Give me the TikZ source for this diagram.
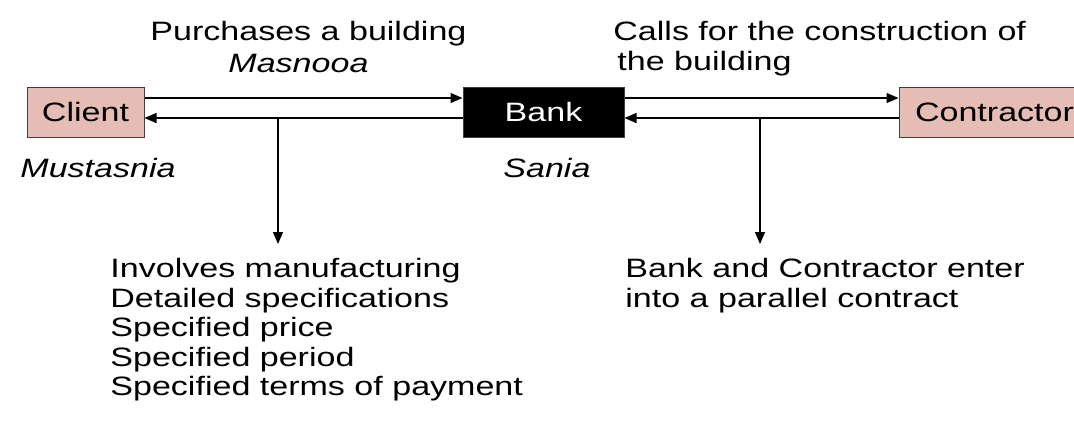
\documentclass[tikz,border=0pt]{standalone}
\usepackage{fontspec}
\setmainfont{Liberation Sans}[FakeStretch=1.28]
\usepackage{xcolor}
\definecolor{partypink}{HTML}{E6BDB5}
\definecolor{edgegray}{HTML}{404040}
\usetikzlibrary{arrows.meta, positioning}
\tikzset{
  pbox/.style ={rectangle, draw=edgegray, line width=0.5pt, fill=partypink, text=black,
                minimum height=25pt, inner sep=0pt, font=\fontsize{13.3}{14.75}\selectfont},
  bbox/.style ={rectangle, draw=edgegray, line width=0.5pt, fill=black, text=white,
                minimum height=25pt, inner sep=0pt, font=\fontsize{13.3}{14.75}\selectfont},
  farr/.style ={-{Triangle[length=6pt, width=5pt]}, line width=0.65pt, color=black},
  lbl/.style  ={inner sep=0pt, align=left, text=black, font=\fontsize{13.3}{14.75}\selectfont},
  ilbl/.style ={lbl, font=\fontsize{13.3}{14.75}\selectfont\itshape},
}
\begin{document}
\begin{tikzpicture}[x=0.5pt, y=-0.5pt]
  \useasboundingbox (0,0) rectangle (1074,425);
  % parties
  \node[pbox, minimum width=58.5pt] (client) at (85.5,112) {Client};
  \node[bbox, minimum width=80.5pt, right=159pt of client] (bank) {Bank};
  \node[pbox, minimum width=95.5pt, right=137pt of bank] (contr) {Contractor};
  % labels
  \node[lbl, anchor=base west] (buy) at (150,40) {Purchases a building};
  \node[ilbl, anchor=base west] (masn) at (228,72) {Masnooa};
  \node[lbl, anchor=north west] (calls) at (613,21) {Calls for the construction of\\\hspace*{2pt}the building};
  \node[ilbl, anchor=base west] (must) at (20,177) {Mustasnia};
  \node[ilbl, anchor=base west] (sania) at (503,177) {Sania};
  \node[lbl, anchor=north west] (specs) at (110,258) {Involves manufacturing\\Detailed specifications\\Specified price\\Specified period\\Specified terms of payment};
  \node[lbl, anchor=north west] (par) at (625,258) {Bank and Contractor enter\\into a parallel contract};
  % flows
  \draw[farr] ([yshift=7pt]client.east) -- ([yshift=7pt]bank.west);
  \draw[farr] ([yshift=-3pt]bank.west) -- ([yshift=-3pt]client.east);
  \draw[farr] ([yshift=7pt]bank.east) -- ([yshift=7pt]contr.west);
  \draw[farr] ([yshift=-3pt]contr.west) -- ([yshift=-3pt]bank.east);
  \coordinate (jl) at (278,118);
  \coordinate (jr) at (760,118);
  \draw[farr] (jl) -- ([yshift=7pt]jl |- specs.north);
  \draw[farr] (jr) -- ([yshift=7pt]jr |- par.north);
\end{tikzpicture}
\end{document}
